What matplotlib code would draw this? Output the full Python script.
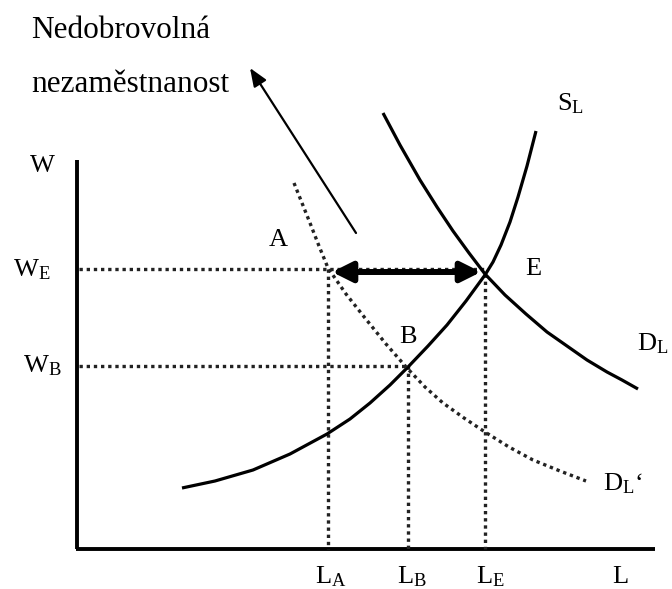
import matplotlib
matplotlib.use("Agg")
import matplotlib.pyplot as plt

# font settings (Times-like serif)
plt.rcParams['font.family'] = ['Liberation Serif', 'DejaVu Serif']
plt.rcParams['mathtext.fontset'] = 'custom'
plt.rcParams['mathtext.rm'] = 'Liberation Serif'
plt.rcParams['mathtext.it'] = 'Liberation Serif:italic'

# curves (pixel coords, y downward)
sl_x = [182, 215, 253, 290, 327, 350, 370, 390, 408, 428, 447, 466, 485,
        493, 501, 510, 518, 527, 536]
sl_y = [488, 481, 470, 454, 434, 419, 403, 385, 367, 346, 325, 301, 275,
        262, 245, 222, 197, 166, 131]

dl_x = [383, 400, 420, 437, 453, 469, 485, 505, 526, 547, 567, 587, 607, 622, 638]
dl_y = [113, 145, 180, 207, 231, 253, 274, 295, 314, 332, 346, 360, 372, 380, 389]

dl2_x = [294, 302, 310, 319, 328, 346, 365, 386, 407, 425, 443, 464, 485,
         509, 533, 560, 586]
dl2_y = [183, 203, 223, 246, 268, 294, 318, 344, 368, 387, 403, 418, 432,
         447, 460, 471, 481]

# equilibrium levels
w_e, w_b = 269, 366
l_a, l_b, l_e = 328, 408, 485
axis_x0, axis_y0 = 77, 549
axis_top, axis_right = 160, 655

fig = plt.figure(figsize=(6.72, 5.89), dpi=100)
ax = fig.add_axes([0, 0, 1, 1])
ax.set_xlim(0, 672)
ax.set_ylim(589, 0)
ax.axis('off')

# axes of the diagram
ax.plot([axis_x0, axis_x0], [axis_top, axis_y0], color='black', lw=2.8, solid_capstyle='butt')
ax.plot([axis_x0 - 1, axis_right], [axis_y0, axis_y0], color='black', lw=2.8, solid_capstyle='butt')

# dotted guides
dot = dict(color='#222222', lw=2.4, linestyle=(0, (1, 1.15)), dash_capstyle='butt')
ax.plot([axis_x0 + 2, l_e], [w_e, w_e], **dot)
ax.plot([l_a, l_a], [w_e, axis_y0], **dot)
ax.plot([axis_x0 + 2, l_b], [w_b, w_b], **dot)
ax.plot([l_b, l_b], [w_b, axis_y0], **dot)
ax.plot([l_e, l_e], [w_e + 5, axis_y0], **dot)

# curves
ax.plot(sl_x, sl_y, color='black', lw=2.3, solid_capstyle='butt', solid_joinstyle='round')
ax.plot(dl_x, dl_y, color='black', lw=2.3, solid_capstyle='butt', solid_joinstyle='round')
ax.plot(dl2_x, dl2_y, **dot)

# arrows
ax.annotate('', xy=(481, 272), xytext=(332, 272),
            arrowprops=dict(arrowstyle='<|-|>,head_length=0.6,head_width=0.3',
                            lw=4.3, color='black', shrinkA=0, shrinkB=0,
                            mutation_scale=20))
ax.annotate('', xy=(250, 68), xytext=(356, 233),
            arrowprops=dict(arrowstyle='-|>,head_length=0.55,head_width=0.22',
                            lw=1.6, color='black', shrinkA=0, shrinkB=0,
                            mutation_scale=20))

# texts
big = 22.5
lab = 19
ax.text(31, 38, 'Nedobrovolná', fontsize=big, va='baseline', ha='left')
ax.text(31, 92, 'nezaměstnanost', fontsize=big, va='baseline', ha='left')
ax.text(30, 172, 'W', fontsize=lab, va='baseline', ha='left')
ax.text(13, 276, r'$\mathrm{W_E}$', fontsize=lab, va='baseline', ha='left')
ax.text(23, 372, r'$\mathrm{W_B}$', fontsize=lab, va='baseline', ha='left')
ax.text(557, 110, r'$\mathrm{S_L}$', fontsize=lab, va='baseline', ha='left')
ax.text(269, 246, 'A', fontsize=lab, va='baseline', ha='left')
ax.text(525, 275, 'E', fontsize=lab, va='baseline', ha='left')
ax.text(399, 343, 'B', fontsize=lab, va='baseline', ha='left')
ax.text(637, 350, r'$\mathrm{D_L}$', fontsize=lab, va='baseline', ha='left')
ax.text(603, 490, r'$\mathrm{D_L}$‘', fontsize=lab, va='baseline', ha='left')

l_labels = [r'$\mathrm{L_A}$', r'$\mathrm{L_B}$', r'$\mathrm{L_E}$', 'L']
l_pos = [331, 412, 490, 620]
for s, xp in zip(l_labels, l_pos):
    ax.text(xp, 583, s, fontsize=lab, va='baseline', ha='center')

fig.savefig('out.png', dpi=100)
